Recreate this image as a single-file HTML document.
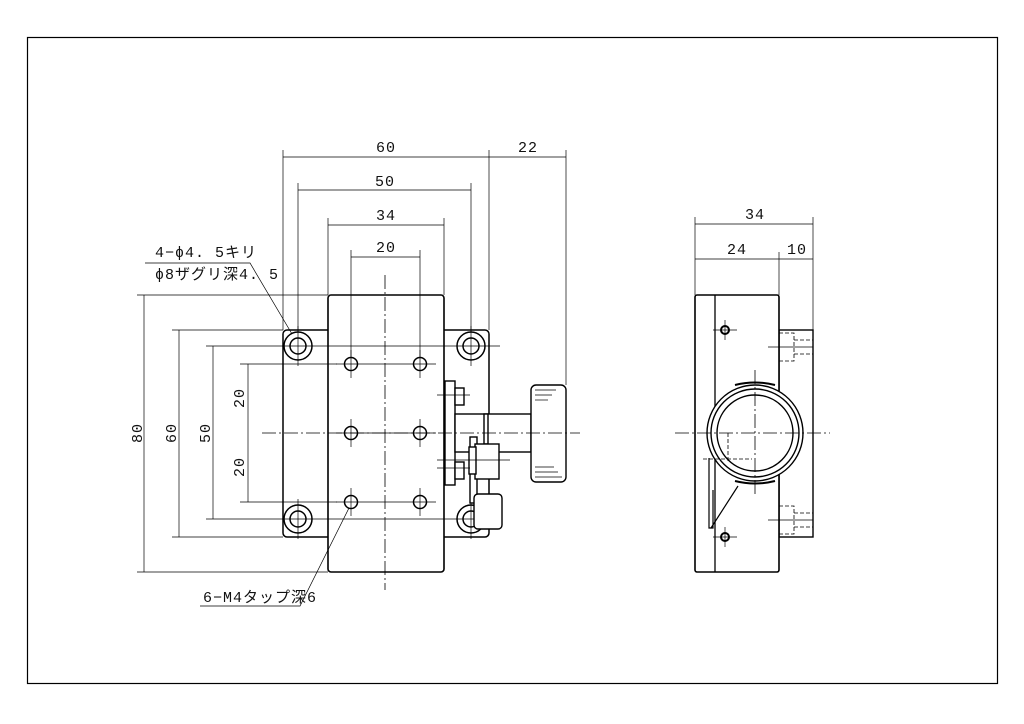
<!DOCTYPE html>
<html><head><meta charset="utf-8"><style>
html,body{margin:0;padding:0;background:#fff}
svg{display:block}
text{font-family:"Liberation Mono","Noto Sans CJK JP",monospace;font-size:15px;fill:#111;letter-spacing:1px}
</style></head><body>
<svg width="1024" height="724" viewBox="0 0 1024 724" xmlns="http://www.w3.org/2000/svg">
<rect x="27.5" y="37.5" width="970" height="646" fill="none" stroke="#000" stroke-width="1.2"/>
<g stroke="#000" fill="none">
<!-- flange -->
<rect x="283" y="330" width="206" height="207" rx="4" stroke-width="1.5"/>
<!-- block -->
<rect x="328" y="295" width="116" height="277" rx="3" stroke-width="1.6" fill="#fff"/>
<!-- counterbores -->
<g stroke-width="1.5">
<circle cx="298" cy="346" r="14"/><circle cx="298" cy="346" r="8"/>
<circle cx="471" cy="346" r="14"/><circle cx="471" cy="346" r="8"/>
<circle cx="298" cy="519" r="14"/><circle cx="298" cy="519" r="8"/>
<circle cx="471" cy="519" r="14"/><circle cx="471" cy="519" r="8"/>
<circle cx="351" cy="364" r="6.5"/><circle cx="420" cy="364" r="6.5"/>
<circle cx="351" cy="433" r="6.5"/><circle cx="420" cy="433" r="6.5"/>
<circle cx="351" cy="502" r="6.5"/><circle cx="420" cy="502" r="6.5"/>
</g>
<g stroke-width="0.7">
<line x1="282" y1="346" x2="500" y2="346"/><line x1="282" y1="519" x2="500" y2="519"/>
<line x1="336" y1="364" x2="436" y2="364"/><line x1="336" y1="502" x2="436" y2="502"/>
<line x1="336" y1="433" x2="436" y2="433"/>
<line x1="298" y1="326" x2="298" y2="366"/><line x1="471" y1="326" x2="471" y2="366"/>
<line x1="298" y1="499" x2="298" y2="539"/><line x1="471" y1="499" x2="471" y2="539"/>
<line x1="351" y1="350" x2="351" y2="378"/><line x1="420" y1="350" x2="420" y2="378"/>
<line x1="351" y1="419" x2="351" y2="447"/><line x1="420" y1="419" x2="420" y2="447"/>
<line x1="351" y1="488" x2="351" y2="516"/><line x1="420" y1="488" x2="420" y2="516"/>
</g>
<!-- knob parts -->
<g stroke-width="1.4" fill="#fff">
<rect x="445" y="381" width="10" height="104"/>
<rect x="455" y="388" width="9" height="17"/>
<rect x="455" y="462" width="9" height="17"/>
<rect x="455" y="414" width="76" height="38"/>
<rect x="484" y="414" width="4" height="30"/>
<rect x="470" y="437" width="7" height="66"/>
<rect x="475" y="444" width="24" height="35"/>
<rect x="469" y="447" width="7" height="27"/>
<rect x="474" y="494" width="28" height="35" rx="4"/>
<rect x="531" y="385" width="35" height="97" rx="5"/>
</g>
<g stroke-width="0.7">
<line x1="535" y1="390" x2="556" y2="390"/><line x1="535" y1="395" x2="552" y2="395"/><line x1="535" y1="400" x2="548" y2="400"/>
<line x1="535" y1="477" x2="562" y2="477"/><line x1="535" y1="472" x2="558" y2="472"/><line x1="535" y1="467" x2="554" y2="467"/>
<line x1="437" y1="395" x2="470" y2="395"/><line x1="437" y1="468" x2="470" y2="468"/><line x1="437" y1="460" x2="510" y2="460"/>
</g>
<!-- side view -->
<rect x="779" y="330" width="34" height="207" stroke-width="1.4"/>
<rect x="695" y="295" width="84" height="277" rx="2" stroke-width="1.6" fill="#fff"/>
<line x1="715" y1="295" x2="715" y2="572" stroke-width="1.3"/>
<g stroke-width="0.8" stroke-dasharray="4,2">
<path d="M779 333H794V361H779M794 340H813M794 354H813"/>
<path d="M779 506H794V534H779M794 513H813M794 527H813"/>
</g>
<g stroke-width="0.7">
<line x1="768" y1="347" x2="813" y2="347"/><line x1="768" y1="520" x2="813" y2="520"/>
<line x1="713" y1="330" x2="737" y2="330"/><line x1="713" y1="537" x2="737" y2="537"/>
<line x1="725" y1="320" x2="725" y2="340"/><line x1="725" y1="527" x2="725" y2="547"/>
</g>
<circle cx="725" cy="330" r="4" stroke-width="2"/><circle cx="725" cy="537" r="4" stroke-width="2"/>
<path d="M735 385Q755 380 775 385" stroke-width="2"/><path d="M735 481Q755 486 775 481" stroke-width="2"/>
<circle cx="755" cy="433" r="48" stroke-width="1.4" fill="#fff"/>
<circle cx="755" cy="433" r="44" stroke-width="1.4"/>
<circle cx="755" cy="433" r="38" stroke-width="1.4"/>
<path d="M709 458V528H713V490M711 528L738 486" stroke-width="1.2"/>
<g stroke-width="0.8" stroke-dasharray="4,2">
<path d="M728 433V462M703 459H752"/>
</g>
<!-- center lines on top -->
<g stroke-width="0.8" stroke-dasharray="14,3,2,3">
<line x1="385" y1="275" x2="385" y2="590"/>
<line x1="262" y1="433" x2="580" y2="433"/>
<line x1="675" y1="433" x2="830" y2="433"/>
<line x1="755" y1="370" x2="755" y2="495"/>
</g>
<!-- dimension lines -->
<g stroke-width="0.7">
<line x1="283" y1="150" x2="283" y2="330"/><line x1="489" y1="150" x2="489" y2="330"/><line x1="566" y1="150" x2="566" y2="385"/>
<line x1="298" y1="183" x2="298" y2="332"/><line x1="471" y1="183" x2="471" y2="332"/>
<line x1="328" y1="218" x2="328" y2="295"/><line x1="444" y1="218" x2="444" y2="295"/>
<line x1="351" y1="250" x2="351" y2="357"/><line x1="420" y1="250" x2="420" y2="357"/>
<line x1="283" y1="157" x2="566" y2="157"/><line x1="298" y1="190" x2="471" y2="190"/>
<line x1="328" y1="225" x2="444" y2="225"/><line x1="351" y1="257" x2="420" y2="257"/>
<line x1="137" y1="295" x2="328" y2="295"/><line x1="137" y1="572" x2="328" y2="572"/>
<line x1="172" y1="330" x2="283" y2="330"/><line x1="172" y1="537" x2="283" y2="537"/>
<line x1="206" y1="346" x2="284" y2="346"/><line x1="206" y1="519" x2="284" y2="519"/>
<line x1="240" y1="364" x2="337" y2="364"/><line x1="240" y1="502" x2="337" y2="502"/>
<line x1="144" y1="295" x2="144" y2="572"/><line x1="179" y1="330" x2="179" y2="537"/>
<line x1="213" y1="346" x2="213" y2="519"/><line x1="248" y1="364" x2="248" y2="502"/>
<line x1="695" y1="217" x2="695" y2="295"/><line x1="813" y1="217" x2="813" y2="330"/><line x1="779" y1="252" x2="779" y2="295"/>
<line x1="695" y1="224" x2="813" y2="224"/><line x1="695" y1="259" x2="813" y2="259"/>
<path d="M145 263H250L292 334"/><path d="M200 606H300L349 508"/>
</g>
</g>
<text x="386" y="152" text-anchor="middle">60</text>
<text x="528" y="152" text-anchor="middle">22</text>
<text x="385" y="186" text-anchor="middle">50</text>
<text x="386" y="220" text-anchor="middle">34</text>
<text x="386" y="252" text-anchor="middle">20</text>
<text x="755" y="219" text-anchor="middle">34</text>
<text x="737" y="254" text-anchor="middle">24</text>
<text x="797" y="254" text-anchor="middle">10</text>
<g text-anchor="middle">
<text transform="translate(142,433) rotate(-90)">80</text>
<text transform="translate(176,433) rotate(-90)">60</text>
<text transform="translate(210,433) rotate(-90)">50</text>
<text transform="translate(244,398) rotate(-90)">20</text>
<text transform="translate(244,467) rotate(-90)">20</text>
</g>
<text x="155" y="257" font-size="13">4−ϕ4. 5キリ</text>
<text x="155" y="279" font-size="13">ϕ8ザグリ深4. 5</text>
<text x="203" y="602" font-size="13">6−M4タップ深6</text>
</svg>
</body></html>
